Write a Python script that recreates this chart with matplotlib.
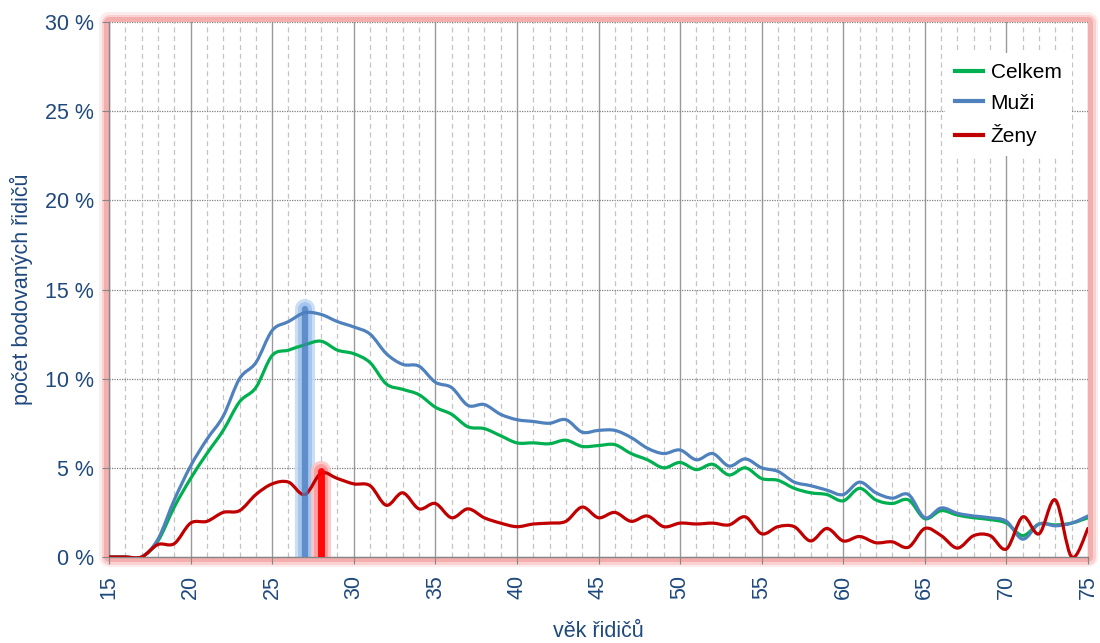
import numpy as np
import matplotlib.pyplot as plt
from matplotlib.path import Path
from matplotlib.patches import PathPatch, Rectangle
from matplotlib.lines import Line2D
from matplotlib.ticker import MultipleLocator, FuncFormatter

plt.rcParams['font.family'] = ['Liberation Sans', 'DejaVu Sans']

ages = list(range(15, 76))

celkem = [0, 0, 0, 0.9, 2.8, 4.4, 5.8, 7.1, 8.7, 9.5,
          11.3, 11.6, 11.9, 12.1, 11.6, 11.4, 10.9, 9.7, 9.4, 9.1,
          8.4, 8.0, 7.3, 7.2, 6.8, 6.4, 6.4, 6.35, 6.55, 6.2,
          6.25, 6.3, 5.8, 5.45, 5.0, 5.3, 4.9, 5.2, 4.6, 5.0,
          4.4, 4.3, 3.85, 3.6, 3.5, 3.15, 3.85, 3.2, 3.0, 3.2,
          2.15, 2.6, 2.35, 2.2, 2.1, 1.9, 1.2, 1.85, 1.8, 1.9, 2.2]
muzi = [0, 0, 0, 1.0, 3.2, 5.1, 6.6, 7.9, 10.0, 10.9,
        12.7, 13.2, 13.7, 13.6, 13.2, 12.9, 12.5, 11.4, 10.8, 10.7,
        9.8, 9.5, 8.5, 8.55, 8.0, 7.7, 7.6, 7.5, 7.7, 7.0,
        7.1, 7.1, 6.7, 6.1, 5.8, 6.0, 5.45, 5.8, 5.1, 5.5,
        5.0, 4.8, 4.2, 4.0, 3.75, 3.5, 4.2, 3.6, 3.3, 3.5,
        2.2, 2.75, 2.45, 2.3, 2.2, 2.0, 1.0, 1.85, 1.75, 1.9, 2.3]
zeny = [0, 0, 0, 0.7, 0.75, 1.9, 2.0, 2.5, 2.6, 3.5,
        4.1, 4.2, 3.5, 4.7, 4.4, 4.1, 4.0, 2.9, 3.6, 2.7,
        3.0, 2.2, 2.7, 2.2, 1.9, 1.7, 1.85, 1.9, 2.0, 2.8,
        2.2, 2.5, 2.0, 2.3, 1.7, 1.9, 1.85, 1.9, 1.8, 2.25,
        1.3, 1.7, 1.7, 0.9, 1.6, 0.9, 1.15, 0.8, 0.85, 0.55,
        1.6, 1.2, 0.5, 1.2, 1.2, 0.45, 2.25, 1.3, 3.2, 0.0, 1.6]

series = [("Celkem", celkem, "#00b050"),
          ("Muži", muzi, "#4f81bd"),
          ("Ženy", zeny, "#c00000")]

# highlighted ages (peak of men / women)
hl_muzi = 27
hl_zeny = 28

text_col = "#1f497d"


def smooth_path(x, y):
    # bezier path through the points, like excel "smoothed line"
    x = np.asarray(x, float)
    y = np.asarray(y, float)
    n = len(x)
    verts = [(x[0], y[0])]
    codes = [Path.MOVETO]
    for i in range(n - 1):
        p0 = np.array([x[max(i - 1, 0)], y[max(i - 1, 0)]])
        p1 = np.array([x[i], y[i]])
        p2 = np.array([x[i + 1], y[i + 1]])
        p3 = np.array([x[min(i + 2, n - 1)], y[min(i + 2, n - 1)]])
        c1 = p1 + (p2 - p0) / 6.0
        c2 = p2 - (p3 - p1) / 6.0
        verts += [tuple(c1), tuple(c2), tuple(p2)]
        codes += [Path.CURVE4] * 3
    return Path(verts, codes)


fig = plt.figure(figsize=(11, 6.43), dpi=100)
ax = fig.add_axes([109 / 1100, 1 - 557 / 643, 979 / 1100, 535 / 643])

# pink glow around plot area
pos = ax.get_position()
for lw, a in [(20, 0.2), (15, 0.35), (10, 0.7)]:
    fig.add_artist(Rectangle((pos.x0, pos.y0), pos.width, pos.height,
                             transform=fig.transFigure, fill=False,
                             edgecolor="#f4a0a0", linewidth=lw * 0.72,
                             alpha=a, zorder=-1, joinstyle="round"))

ax.set_xlim(15, 75)
ax.set_ylim(0, 30)

ax.xaxis.set_major_locator(MultipleLocator(5))
ax.xaxis.set_minor_locator(MultipleLocator(1))
ax.yaxis.set_major_locator(MultipleLocator(5))
ax.yaxis.set_major_formatter(FuncFormatter(lambda v, p: "%d %%" % v))

ax.grid(axis="x", which="major", color="#9a9a9a", linewidth=1.0, linestyle="-")
ax.grid(axis="x", which="minor", color="#c4c4c4", linewidth=0.9, linestyle=(0, (4, 3)))
ax.grid(axis="y", which="major", color="#808080", linewidth=0.9, linestyle=(0, (1, 1)))
ax.set_axisbelow(True)

for name, vals, col in series:
    ax.add_patch(PathPatch(smooth_path(ages, vals), facecolor="none",
                           edgecolor=col, linewidth=2.3, zorder=3,
                           capstyle="round", joinstyle="round"))

# highlight bars
ym = muzi[ages.index(hl_muzi)] + 0.2
yz = zeny[ages.index(hl_zeny)] + 0.1
ax.vlines(hl_muzi, 0, ym, colors="#c2d9f4", linewidth=14.5, alpha=0.85,
          zorder=2, capstyle="round")
ax.vlines(hl_muzi, 0, ym, colors="#94bbeb", linewidth=10, alpha=0.7,
          zorder=2, capstyle="round")
ax.vlines(hl_zeny, 0, yz, colors="#ffc2c2", linewidth=14.5, alpha=0.85,
          zorder=2, capstyle="round")
ax.vlines(hl_zeny, 0, yz, colors="#ff8c8c", linewidth=10, alpha=0.7,
          zorder=2, capstyle="round")
ax.vlines(hl_muzi, 0, ym, colors="#4a7cc0", linewidth=4.5, alpha=0.75,
          zorder=5, capstyle="round")
ax.vlines(hl_zeny, 0, yz, colors="#ff0000", linewidth=5, alpha=0.95,
          zorder=5, capstyle="round")

for s in ["top", "right"]:
    ax.spines[s].set_visible(False)
for s in ["left", "bottom"]:
    ax.spines[s].set_color("#868686")
    ax.spines[s].set_linewidth(1.0)

ax.tick_params(axis="both", which="major", colors="#868686", length=5,
               labelcolor=text_col, labelsize=15.5)
ax.tick_params(axis="x", which="minor", length=0)
ax.tick_params(axis="x", labelrotation=90, pad=8)
ax.tick_params(axis="y", pad=6)

ax.set_ylabel("počet bodovaných řidičů", color=text_col, fontsize=15.5, labelpad=8)
ax.set_xlabel("věk řidičů", color=text_col, fontsize=15.5, labelpad=16)

handles = [Line2D([], [], color=c, linewidth=3) for _, _, c in series]
leg = ax.legend(handles, [n for n, _, _ in series], loc="upper left",
                bbox_to_anchor=(0.843, 0.962), fontsize=15, frameon=True,
                framealpha=1, facecolor="white", edgecolor="none",
                handlelength=1.35, handletextpad=0.35, labelspacing=0.55,
                borderpad=0.5, fancybox=False)
leg.set_zorder(6)

fig.savefig("out.png", dpi=100)
